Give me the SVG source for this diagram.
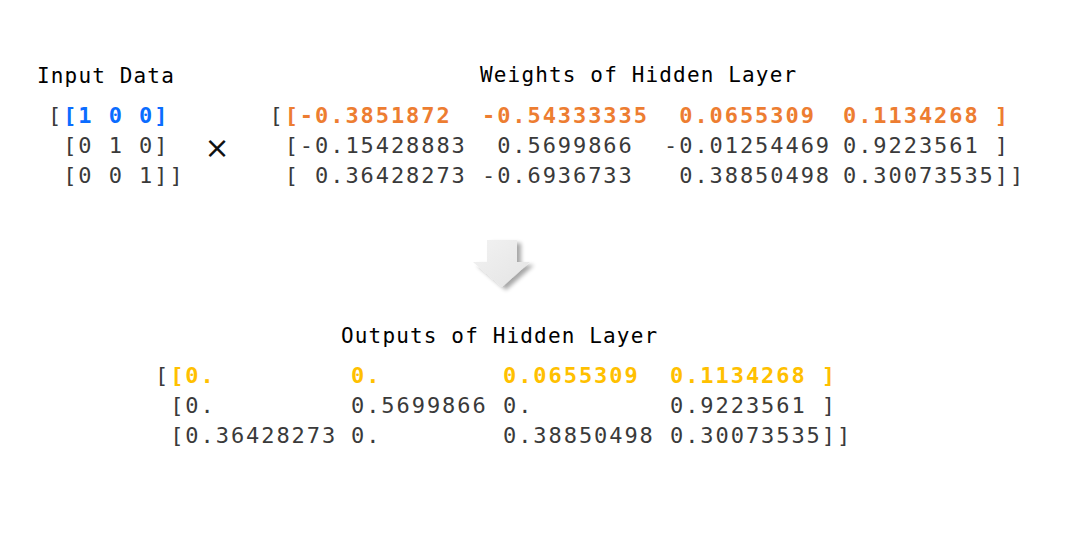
<svg xmlns="http://www.w3.org/2000/svg" width="1074" height="542" viewBox="0 0 1074 542">
<style>
  text { white-space: pre; }
  .title { font-family: "DejaVu Sans Mono", monospace; font-size: 21px; letter-spacing: 1.15px; fill: #000; }
  .num { font-family: "DejaVu Sans Mono", monospace; font-size: 22px; letter-spacing: 1.93px; fill: #3a3a3a; }
  .blue { fill: #0a6cff; font-weight: bold; }
  .orange { fill: #ed7d31; font-weight: bold; }
  .gold { fill: #ffc000; font-weight: bold; }
  .op { font-family: "DejaVu Sans", sans-serif; font-size: 30px; fill: #111; }
</style>
<defs>
  <filter id="shadow" x="-30%" y="-30%" width="160%" height="160%">
    <feGaussianBlur in="SourceAlpha" stdDeviation="2"/>
    <feOffset dx="4" dy="3" result="b"/>
    <feComponentTransfer><feFuncA type="linear" slope="0.35"/></feComponentTransfer>
    <feMerge><feMergeNode/><feMergeNode in="SourceGraphic"/></feMerge>
  </filter>
  <linearGradient id="arrowFill" x1="0" y1="0" x2="1" y2="1">
    <stop offset="0" stop-color="#f2f2f2"/>
    <stop offset="1" stop-color="#e4e4e4"/>
  </linearGradient>
</defs>
<rect width="1074" height="542" fill="#ffffff"/>

<g id="input-data">
  <text class="title" x="37" y="83">Input Data</text>
  <text class="num" x="48" y="123" xml:space="preserve">[<tspan class="blue">[1 0 0]</tspan></text>
  <text class="num" x="48" y="153" xml:space="preserve"> [0 1 0]</text>
  <text class="num" x="48" y="183" xml:space="preserve"> [0 0 1]]</text>
</g>

<g id="multiply">
  <text class="op" x="217" y="158" text-anchor="middle">×</text>
</g>

<g id="weights">
  <text class="title" x="480" y="82">Weights of Hidden Layer</text>
  <text class="num" x="269.5" y="123" xml:space="preserve">[<tspan class="orange">[-0.3851872  -0.54333335  0.0655309</tspan></text>
  <text class="num orange" x="843" y="123" xml:space="preserve">0.1134268 ]</text>
  <text class="num" x="269.5" y="153" xml:space="preserve"> [-0.15428883  0.5699866  -0.01254469</text>
  <text class="num" x="843" y="153" xml:space="preserve">0.9223561 ]</text>
  <text class="num" x="269.5" y="183" xml:space="preserve"> [ 0.36428273 -0.6936733   0.38850498</text>
  <text class="num" x="843" y="183" xml:space="preserve">0.30073535]]</text>
</g>

<g id="connectors">
  <g id="down-arrow" filter="url(#shadow)">
    <polygon points="487,240 517,240 517,262 530,262 502,287 473,262 487,262" fill="url(#arrowFill)"/>
  </g>
</g>

<g id="outputs">
  <text class="title" x="341" y="343">Outputs of Hidden Layer</text>
  <text class="num" x="155" y="383" xml:space="preserve">[<tspan class="gold">[0.</tspan></text>
  <text class="num gold" x="351" y="383">0.</text>
  <text class="num gold" x="503" y="383">0.0655309</text>
  <text class="num gold" x="670" y="383" xml:space="preserve">0.1134268 ]</text>
  <text class="num" x="155" y="413" xml:space="preserve"> [0.</text>
  <text class="num" x="351" y="413">0.5699866</text>
  <text class="num" x="503" y="413">0.</text>
  <text class="num" x="670" y="413" xml:space="preserve">0.9223561 ]</text>
  <text class="num" x="155" y="443" xml:space="preserve"> [0.36428273</text>
  <text class="num" x="351" y="443">0.</text>
  <text class="num" x="503" y="443">0.38850498</text>
  <text class="num" x="670" y="443" xml:space="preserve">0.30073535]]</text>
</g>
</svg>
